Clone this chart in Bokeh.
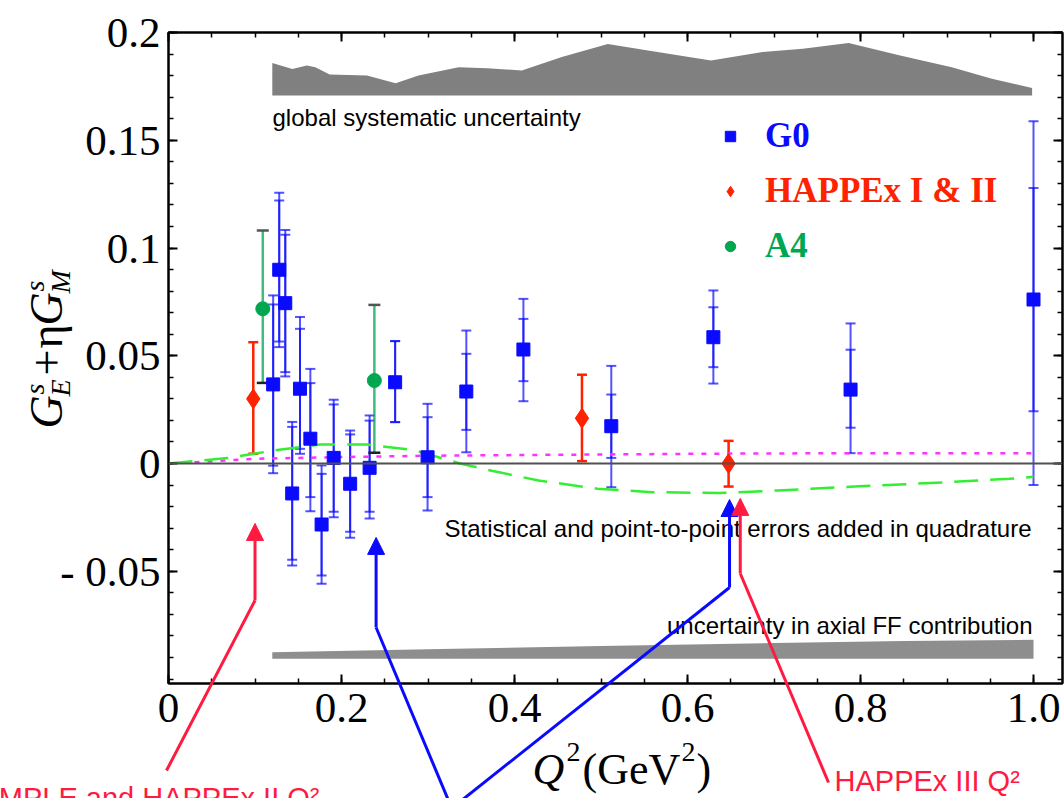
import math
from bokeh.plotting import figure
from bokeh.models import (ColumnDataSource, Whisker, TeeHead, NormalHead, Arrow, Label, Span,
                          FixedTicker, LinearAxis, Range1d, Legend, LegendItem)
from bokeh.embed import file_html
from bokeh.resources import INLINE

# ---------------- data ----------------
# G0 forward-angle points
g0_q2 = [0.121, 0.128, 0.135, 0.143, 0.152, 0.164, 0.177, 0.191, 0.210, 0.2325,
         0.262, 0.2995, 0.3443, 0.4103, 0.5119, 0.6299, 0.7885, 1.000]
g0_val = [0.0367, 0.0899, 0.0744, -0.0139, 0.0347, 0.0115, -0.0283, 0.0026, -0.0094, -0.0020,
          0.0377, 0.0029, 0.0334, 0.0529, 0.0173, 0.0586, 0.0343, 0.0761]
g0_in_lo = [-0.0010, 0.0566, 0.0424, -0.0447, 0.0068, -0.0156, -0.0520, -0.0224, -0.0317, -0.0224,
            0.0192, -0.0156, 0.0156, 0.0382, 0.0026, 0.0447, 0.0166, 0.0243]
g0_in_hi = [0.0738, 0.1220, 0.1061, 0.0170, 0.0625, 0.0373, -0.0048, 0.0274, 0.0135, 0.0199,
            0.0568, 0.0215, 0.0509, 0.0671, 0.0320, 0.0725, 0.0528, 0.1279]
g0_out_lo = [-0.0045, 0.0540, 0.0404, -0.0473, 0.0045, -0.0221, -0.0558, -0.0249, -0.0345, -0.0255,
             0.0192, -0.0218, 0.0052, 0.0289, -0.0110, 0.0371, 0.0048, -0.0100]
g0_out_hi = [0.0780, 0.1256, 0.1084, 0.0193, 0.0680, 0.0439, -0.0009, 0.0296, 0.0153, 0.0223,
             0.0568, 0.0277, 0.0617, 0.0764, 0.0453, 0.0803, 0.0650, 0.1588]

# HAPPEx I & II
hap_q2 = [0.098, 0.478, 0.6475]
hap_val = [0.030, 0.021, 0.000]
hap_lo = [0.0045, 0.0011, -0.0107]
hap_hi = [0.0563, 0.0412, 0.0105]

# A4
a4_q2 = [0.109, 0.238]
a4_val = [0.0718, 0.0385]
a4_lo = [0.0374, 0.0050]
a4_hi = [0.1081, 0.0736]

# theory curves
mag_q2 = [0.0, 0.05, 0.10, 0.20, 0.30, 0.40, 0.50, 0.65, 0.80, 1.00]
mag_val = [0.0, 0.0010, 0.0022, 0.0030, 0.0036, 0.0039, 0.0042, 0.0046, 0.0048, 0.0048]
grn_q2 = [0.0, 0.068, 0.1255, 0.1755, 0.229, 0.283, 0.337, 0.375, 0.428, 0.496, 0.559, 0.637,
          0.705, 0.793, 0.900, 0.972, 1.000]
grn_val = [0.0, 0.0025, 0.0063, 0.0088, 0.0088, 0.0063, 0.0, -0.0035, -0.0079, -0.0117, -0.0133,
           -0.0137, -0.0125, -0.0107, -0.0087, -0.0071, -0.0062]

# global systematic uncertainty band
sys_q2 = [0.120, 0.1432, 0.1598, 0.1698, 0.1863, 0.2294, 0.2626, 0.289, 0.3355, 0.3686, 0.4084,
          0.4547, 0.5079, 0.5543, 0.6272, 0.6868, 0.7333, 0.7863, 0.8458, 0.9055, 0.9519, 0.9984]
sys_top = [0.1858, 0.1831, 0.1847, 0.1839, 0.1805, 0.1800, 0.1765, 0.1800, 0.1839, 0.1834, 0.1824,
           0.1886, 0.1947, 0.1916, 0.1870, 0.1909, 0.1925, 0.1951, 0.1893, 0.1839, 0.1785, 0.1743]
sys_base = 0.1708

# axial FF uncertainty band
ax_q2 = [0.120, 0.30, 0.50, 0.70, 0.85, 1.000]
ax_top = [-0.0876, -0.0862, -0.0847, -0.0833, -0.0824, -0.0818]
ax_base = -0.0906

# arrows pointing to Q^2 values
arrow_q2 = [0.100, 0.240, 0.6486, 0.661]
arrow_tip = [-0.0278, -0.0343, -0.0167, -0.0162]

x_ticks = [0, 0.2, 0.4, 0.6, 0.8, 1]
y_ticks = [-0.05, 0, 0.05, 0.1, 0.15, 0.2]
x_tick_labels = ["0", "0.2", "0.4", "0.6", "0.8", "1.0"]
y_tick_labels = ["- 0.05", "0", "0.05", "0.1", "0.15", "0.2"]

# ---------------- layout ----------------
W, H = 1064, 798
L, R, T, B = 168, 1062, 32, 683
X0, X1 = 0.0, (R - L) / 865.0
Y1 = 0.2
Y0 = 0.2 - (B - T) / 2155.0


def px2x(px):
    return X0 + (px - L) / (R - L) * (X1 - X0)


def py2y(py):
    return Y1 - (py - T) / (B - T) * (Y1 - Y0)


BLUE = "#0a0aff"
RED = "#ff2200"
GREEN = "#00a650"
ARED = "#ff1a40"
SERIF = "Liberation Serif"
SANS = "Liberation Sans"

p = figure(width=W, height=H, x_range=Range1d(X0, X1), y_range=Range1d(Y0, Y1),
           output_backend="svg", toolbar_location=None,
           min_border_left=L, min_border_right=W - R, min_border_top=T, min_border_bottom=H - B,
           background_fill_color="white", border_fill_color="white")
p.grid.visible = False
p.outline_line_color = "black"
p.outline_line_width = 2

xt = FixedTicker(ticks=x_ticks, minor_ticks=[round(i * 0.05, 2) for i in range(21)])
yt = FixedTicker(ticks=y_ticks, minor_ticks=[round(-0.1 + i * 0.01, 2) for i in range(31)])


def style_axis(ax, ticker, ticks, labels, show_labels):
    ax.ticker = ticker
    ax.axis_line_color = "black"
    ax.axis_line_width = 2
    ax.major_tick_in = 9
    ax.major_tick_out = 0
    ax.minor_tick_in = 5
    ax.minor_tick_out = 0
    ax.major_tick_line_color = "black"
    ax.major_tick_line_width = 2
    ax.minor_tick_line_color = "black"
    ax.minor_tick_line_width = 1.5
    ax.major_label_text_font = SERIF
    ax.major_label_text_color = "black"
    if show_labels:
        ax.major_label_text_font_size = "43px"
        ax.major_label_overrides = dict(zip(ticks, labels))
    else:
        ax.major_label_text_font_size = "1px"
        ax.major_label_standoff = 0
        ax.major_label_overrides = {t: "" for t in ticks}


style_axis(p.xaxis[0], xt, x_ticks, x_tick_labels, True)
style_axis(p.yaxis[0], yt, y_ticks, y_tick_labels, True)
p.xaxis[0].major_label_standoff = 10
p.yaxis[0].major_label_standoff = 8

top_ax = LinearAxis()
style_axis(top_ax, xt, x_ticks, x_tick_labels, False)
p.add_layout(top_ax, "above")
right_ax = LinearAxis()
style_axis(right_ax, yt, y_ticks, y_tick_labels, False)
p.add_layout(right_ax, "right")

# bands
p.varea(x=sys_q2, y1=[sys_base] * len(sys_q2), y2=sys_top, fill_color="#808080")
p.varea(x=ax_q2, y1=[ax_base] * len(ax_q2), y2=ax_top, fill_color="#8e8e8e")

# zero line & curves
p.add_layout(Span(location=0, dimension="width", line_color="#505050", line_width=1.8))
p.line(mag_q2, mag_val, line_color="#ff33ff", line_width=2.5, line_dash="5 8")
p.line(grn_q2, grn_val, line_color="#33ee33", line_width=2.5, line_dash="24 12")

# G0
g0_src = ColumnDataSource(dict(x=g0_q2, y=g0_val, ilo=g0_in_lo, ihi=g0_in_hi,
                               olo=g0_out_lo, ohi=g0_out_hi))
for lo, hi in (("olo", "ohi"), ("ilo", "ihi")):
    p.add_layout(Whisker(base="x", lower=lo, upper=hi, source=g0_src,
                         line_color=BLUE, line_alpha=0.7, line_width=2,
                         lower_head=TeeHead(size=10, line_color=BLUE, line_alpha=0.7, line_width=2),
                         upper_head=TeeHead(size=10, line_color=BLUE, line_alpha=0.7, line_width=2)))
g0_r = p.scatter("x", "y", source=g0_src, marker="square", size=13, fill_color=BLUE,
                 line_color=BLUE)

# HAPPEx
hap_src = ColumnDataSource(dict(x=hap_q2, y=hap_val, lo=hap_lo, hi=hap_hi))
p.add_layout(Whisker(base="x", lower="lo", upper="hi", source=hap_src,
                     line_color=RED, line_width=2.5,
                     lower_head=TeeHead(size=10, line_color=RED, line_width=2.5),
                     upper_head=TeeHead(size=10, line_color=RED, line_width=2.5)))
hap_r = p.scatter("x", "y", source=hap_src, marker="diamond", size=20, fill_color=RED,
                  line_color=RED)

# A4
a4_src = ColumnDataSource(dict(x=a4_q2, y=a4_val, lo=a4_lo, hi=a4_hi))
p.add_layout(Whisker(base="x", lower="lo", upper="hi", source=a4_src,
                     line_color=GREEN, line_alpha=0.75, line_width=2.5,
                     lower_head=TeeHead(size=12, line_color="#222222", line_width=2.5),
                     upper_head=TeeHead(size=12, line_color="#555555", line_width=2.5)))
a4_r = p.scatter("x", "y", source=a4_src, marker="circle", size=14, fill_color=GREEN,
                 line_color=GREEN)


# legends
def add_leg(r, label, color, vy):
    leg = Legend(items=[LegendItem(label=label, renderers=[r])], location=(549, vy),
                 orientation="vertical", background_fill_alpha=0, border_line_alpha=0,
                 padding=0, margin=0, spacing=0, glyph_width=26, glyph_height=38,
                 label_standoff=22, label_height=38,
                 label_text_font=SERIF, label_text_font_style="bold",
                 label_text_font_size="35px", label_text_color=color)
    p.add_layout(leg)


add_leg(g0_r, "G0", BLUE, 683 - 156)
add_leg(hap_r, "HAPPEx I & II", RED, 683 - 211)
add_leg(a4_r, "A4", GREEN, 683 - 266)


def lab(fig, text, px, py, size, font=SANS, style="normal", color="black", align="left",
        angle=0.0):
    # (px, py) is the wanted baseline start in page pixels; compensate the
    # offset that the label box adds below the alphabetic baseline
    shift = 0.3 * size
    if angle:
        px -= shift
    else:
        py -= shift
    fig.add_layout(Label(x=px2x(px), y=py2y(py), text=text, text_font=font,
                         text_font_size=f"{size}px", text_font_style=style, text_color=color,
                         text_align=align, text_baseline="alphabetic", angle=angle))


lab(p, "global systematic uncertainty", 272, 124, 24)
lab(p, "Statistical and point-to-point errors added in quadrature", 1031, 535, 24, align="right")
lab(p, "uncertainty in axial FF contribution", 1032, 632, 24, align="right")

# ---------------- transparent overlay for items outside the plot frame ----------------
ov = figure(width=W, height=H, x_range=Range1d(px2x(0), px2x(W)),
            y_range=Range1d(py2y(H), py2y(0)), x_axis_type=None, y_axis_type=None,
            output_backend="svg", toolbar_location=None, min_border=0,
            background_fill_color=None, border_fill_color=None, outline_line_color=None)
ov.grid.visible = False
ov.styles = {"position": "absolute", "top": "0px", "left": "0px"}

# arrows (start and knee points in page pixels)
arrow_paths = [
    ((166, 770), 600, ARED),
    ((448, 800), 627, BLUE),
    ((461, 800), 587, BLUE),
    ((828, 782), 573, ARED),
]
for q, tip, (start, knee, col) in zip(arrow_q2, arrow_tip, arrow_paths):
    ky = py2y(knee)
    ov.add_layout(Arrow(x_start=px2x(start[0]), y_start=py2y(start[1]), x_end=q, y_end=ky,
                        end=None, line_color=col, line_width=3))
    ov.add_layout(Arrow(x_start=q, y_start=ky, x_end=q, y_end=tip, line_color=col, line_width=3,
                        end=NormalHead(size=17, fill_color=col, line_color=col, line_width=1)))

lab(ov, "HAPPEx III Q²", 834, 789, 29, color=ARED)
lab(ov, "SAMPLE and HAPPEx II Q²", 319, 806, 29, color=ARED, align="right")

# x axis title
lab(ov, "Q", 532, 782, 44, font=SERIF, style="italic")
lab(ov, "2", 566, 760, 28, font=SERIF)
lab(ov, "(GeV", 582, 782, 44, font=SERIF)
lab(ov, "2", 681, 760, 28, font=SERIF)
lab(ov, ")", 696, 782, 44, font=SERIF)

# y axis title (rotated)
rot = math.pi / 2
lab(ov, "G", 60, 428, 46, font=SERIF, style="italic", angle=rot)
lab(ov, "s", 42, 394, 28, font=SERIF, style="italic", angle=rot)
lab(ov, "E", 68, 396, 28, font=SERIF, style="italic", angle=rot)
lab(ov, "+", 60, 375, 46, font=SERIF, angle=rot)
lab(ov, "η", 60, 348, 46, font=SERIF, angle=rot)
lab(ov, "G", 60, 325, 46, font=SERIF, style="italic", angle=rot)
lab(ov, "s", 42, 291, 28, font=SERIF, style="italic", angle=rot)
lab(ov, "M", 68, 293, 28, font=SERIF, style="italic", angle=rot)

open("out.html", "w").write(file_html([p, ov], INLINE))
